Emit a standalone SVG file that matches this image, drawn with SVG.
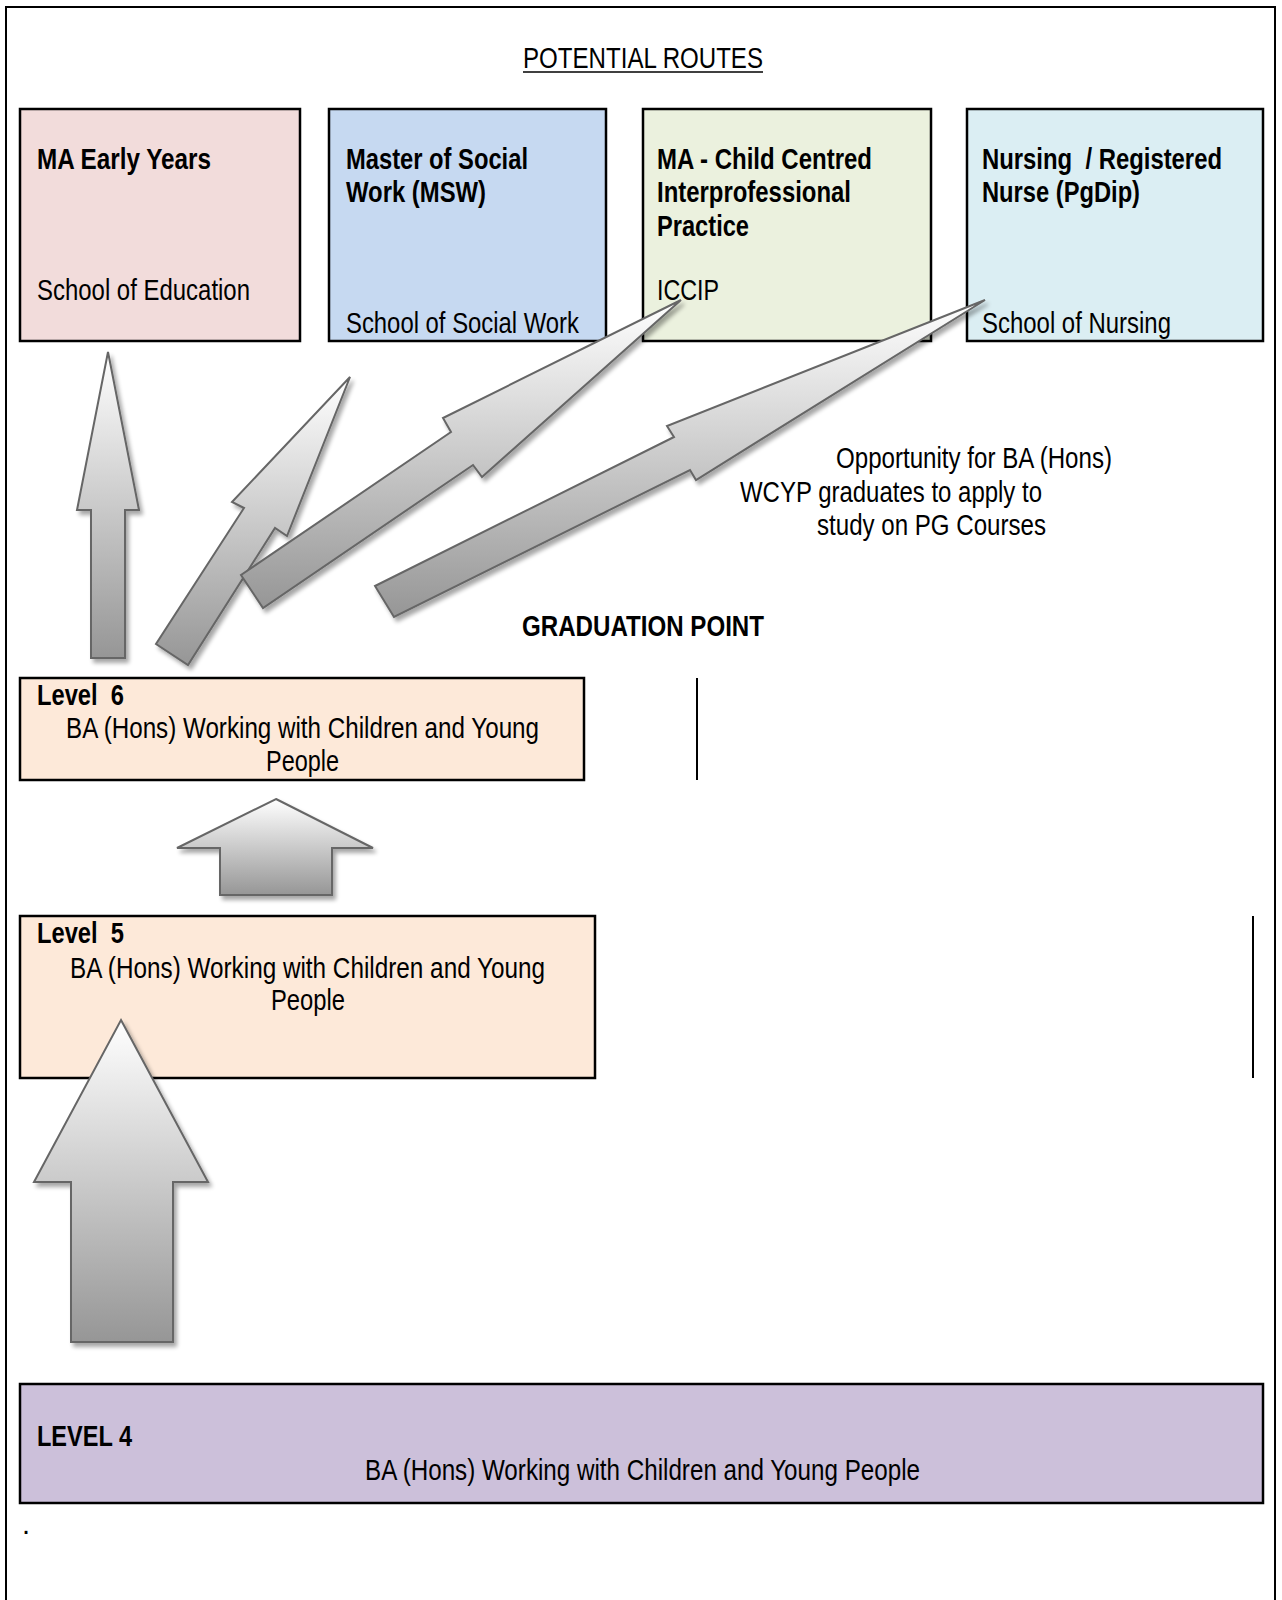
<svg xmlns="http://www.w3.org/2000/svg" width="1282" height="1600" viewBox="0 0 1282 1600">
<defs>
<style>
text { font-family: "Liberation Sans Narrow", "Liberation Sans", Arial, sans-serif; font-size: 29px; fill: #000; }
.b { font-weight: bold; }
.box { stroke: #000; stroke-width: 2.5; }
.arrow { fill: url(#g); stroke: #666666; stroke-width: 2; stroke-linejoin: miter; filter: url(#sh); }
.rule { stroke: #000; stroke-width: 2; }
</style>
<linearGradient id="g" x1="0" y1="0" x2="0" y2="1">
<stop offset="0" stop-color="#ffffff"/>
<stop offset="1" stop-color="#969696"/>
</linearGradient>
<filter id="sh" x="-20%" y="-20%" width="140%" height="140%">
<feGaussianBlur in="SourceAlpha" stdDeviation="2"/>
<feOffset dx="3" dy="4"/>
<feComponentTransfer><feFuncA type="linear" slope="0.35"/></feComponentTransfer>
<feMerge><feMergeNode/><feMergeNode in="SourceGraphic"/></feMerge>
</filter>
</defs>
<rect x="0" y="0" width="1282" height="1600" fill="#fff"/>
<rect x="6" y="7" width="1269" height="1610" fill="none" stroke="#000" stroke-width="2"/>

<g id="title">
<text x="523" y="68" textLength="240" lengthAdjust="spacingAndGlyphs">POTENTIAL ROUTES</text>
<line x1="523" y1="72" x2="763" y2="72" stroke="#000" stroke-width="1.5"/>
</g>

<g id="node-ma-early-years">
<rect class="box" x="20" y="109" width="280" height="232" fill="#f2dcdb"/>
<text class="b" x="37" y="169" textLength="174" lengthAdjust="spacingAndGlyphs">MA Early Years</text>
<text x="37" y="300" textLength="213" lengthAdjust="spacingAndGlyphs">School of Education</text>
</g>

<g id="node-msw">
<rect class="box" x="329" y="109" width="277" height="232" fill="#c6d9f1"/>
<text class="b" x="346" y="169" textLength="182" lengthAdjust="spacingAndGlyphs">Master of Social</text>
<text class="b" x="346" y="202" textLength="140" lengthAdjust="spacingAndGlyphs">Work (MSW)</text>
<text x="346" y="333" textLength="233" lengthAdjust="spacingAndGlyphs">School of Social Work</text>
</g>

<g id="node-ccip">
<rect class="box" x="643" y="109" width="288" height="232" fill="#ebf1de"/>
<text class="b" x="657" y="169" textLength="215" lengthAdjust="spacingAndGlyphs">MA - Child Centred</text>
<text class="b" x="657" y="202" textLength="194" lengthAdjust="spacingAndGlyphs">Interprofessional</text>
<text class="b" x="657" y="236" textLength="92" lengthAdjust="spacingAndGlyphs">Practice</text>
<text x="657" y="300" textLength="62" lengthAdjust="spacingAndGlyphs">ICCIP</text>
</g>

<g id="node-nursing">
<rect class="box" x="967" y="109" width="296" height="232" fill="#dbeef3"/>
<text class="b" x="982" y="169" textLength="240" lengthAdjust="spacingAndGlyphs" xml:space="preserve">Nursing  / Registered</text>
<text class="b" x="982" y="202" textLength="158" lengthAdjust="spacingAndGlyphs">Nurse (PgDip)</text>
<text x="982" y="333" textLength="189" lengthAdjust="spacingAndGlyphs">School of Nursing</text>
</g>

<g id="note">
<text x="836" y="468" textLength="276" lengthAdjust="spacingAndGlyphs">Opportunity for BA (Hons)</text>
<text x="740" y="502" textLength="302" lengthAdjust="spacingAndGlyphs">WCYP graduates to apply to</text>
<text x="817" y="535" textLength="229" lengthAdjust="spacingAndGlyphs">study on PG Courses</text>
</g>

<g id="graduation">
<text class="b" x="522" y="636" textLength="242" lengthAdjust="spacingAndGlyphs">GRADUATION POINT</text>
</g>

<g id="node-level6">
<rect class="box" x="20" y="678" width="564" height="102" fill="#fde9d9"/>
<text class="b" x="37" y="705" textLength="87" lengthAdjust="spacingAndGlyphs" xml:space="preserve">Level  6</text>
<text x="66" y="738" textLength="473" lengthAdjust="spacingAndGlyphs">BA (Hons) Working with Children and Young</text>
<text x="266" y="771" textLength="73" lengthAdjust="spacingAndGlyphs">People</text>
</g>

<g id="node-level5">
<rect class="box" x="20" y="916" width="575" height="162" fill="#fde9d9"/>
<text class="b" x="37" y="943" textLength="87" lengthAdjust="spacingAndGlyphs" xml:space="preserve">Level  5</text>
<text x="70" y="978" textLength="475" lengthAdjust="spacingAndGlyphs">BA (Hons) Working with Children and Young</text>
<text x="271" y="1010" textLength="74" lengthAdjust="spacingAndGlyphs">People</text>
</g>

<g id="node-level4">
<rect class="box" x="20" y="1384" width="1243" height="119" fill="#ccc0da"/>
<text class="b" x="37" y="1446" textLength="95" lengthAdjust="spacingAndGlyphs">LEVEL 4</text>
<text x="365" y="1480" textLength="555" lengthAdjust="spacingAndGlyphs">BA (Hons) Working with Children and Young People</text>
</g>

<g id="rules">
<line class="rule" x1="697" y1="678" x2="697" y2="780"/>
<line class="rule" x1="1253" y1="916" x2="1253" y2="1078"/>
</g>

<g id="connectors">
<polygon class="arrow" points="108,352 139,510 125,510 125,658 91,658 91,510 77,510"/>
<polygon class="arrow" points="350,377 287,536 275,528 188,665 156,644 244,508 232,502"/>
<polygon class="arrow" points="681,300 482,477 473,465 263,608 241,575 451,432 443,418"/>
<polygon class="arrow" points="985,300 696,480 690,470 394,617 375,586 674,437 667,426"/>
<polygon class="arrow" points="276,799 373,848 332,848 332,895 220,895 220,848 177,848"/>
<polygon class="arrow" points="121,1020 208,1182 173,1182 173,1342 71,1342 71,1182 34,1182"/>
</g>

<text x="22" y="1534" font-size="20">.</text>
</svg>
